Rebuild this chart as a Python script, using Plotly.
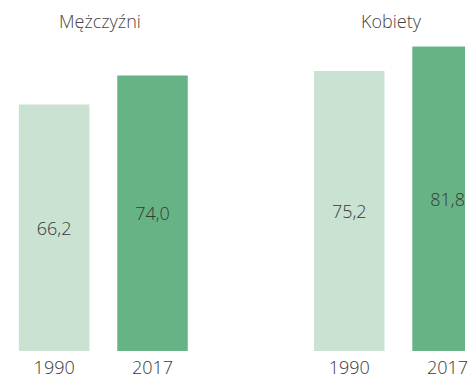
import plotly.graph_objects as go

# Life expectancy at birth by sex, 1990 vs 2017
groups = ["Mężczyźni", "Kobiety"]
years = ["1990", "2017"]
values_men = [66.2, 74.0]
values_women = [75.2, 81.8]

color_1990 = "#c9e2d1"
color_2017 = "#66b486"
text_color = "#383838"
font_family = "Open Sans, Segoe UI, sans-serif"

# x slots: two bars per group with an empty slot between the groups
slots_men = [0, 1]
slots_women = [3, 4]

def fmt(v):
    return f"{v:.1f}".replace(".", ",")

fig = go.Figure()
for slots, vals in ((slots_men, values_men), (slots_women, values_women)):
    fig.add_trace(go.Bar(
        x=slots,
        y=vals,
        width=0.717,
        marker=dict(color=[color_1990, color_2017], line=dict(width=0)),
        text=[fmt(v) for v in vals],
        textposition="inside",
        insidetextanchor="middle",
        textangle=0,
        textfont=dict(family=font_family, size=18, color=text_color, weight=300),
        showlegend=False,
        hoverinfo="skip",
    ))

# group headings
for label, xpos in zip(groups, [0.47, 3.43]):
    fig.add_annotation(
        x=xpos, y=88.6, xref="x", yref="y",
        text=label, showarrow=False,
        font=dict(family=font_family, size=18, color="#444444", weight=300),
        xanchor="center", yanchor="middle",
    )

fig.update_layout(
    width=468, height=379,
    margin=dict(l=0, r=0, t=0, b=26),
    paper_bgcolor="white", plot_bgcolor="white",
    uniformtext=dict(mode=False),
)
fig.update_xaxes(
    range=[-0.5505, 4.177],
    tickvals=slots_men + slots_women,
    ticktext=years + years,
    tickfont=dict(family=font_family, size=18, color=text_color, weight=300),
    ticklabelstandoff=4,
    ticklabeloverflow="allow",
    showgrid=False, zeroline=False, showline=False, ticks="",
)
fig.update_yaxes(
    range=[0, 94.3],
    showgrid=False, zeroline=False, showline=False,
    showticklabels=False, ticks="",
)

fig.write_html("out.html")
